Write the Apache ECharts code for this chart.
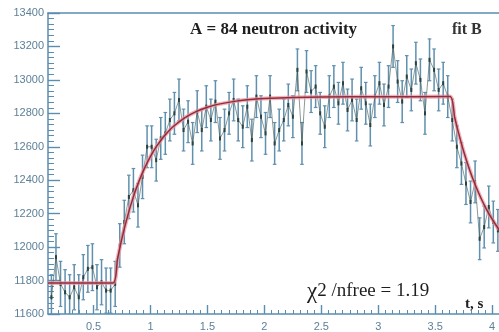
<!DOCTYPE html>
<html>
<head>
<meta charset="utf-8">
<script src="https://cdn.jsdelivr.net/npm/echarts@6/dist/echarts.min.js"></script>
<style>
  html, body { margin: 0; padding: 0; background: #ffffff; }
  #chart { width: 499px; height: 332px; }
</style>
</head>
<body>
<div id="chart"></div>
<script>
// Measured neutron activity: time bins (s), counts and their errors
const times = [
  0.13, 0.17, 0.21, 0.25, 0.29, 0.33, 0.37, 0.41, 0.45, 0.49,
  0.53, 0.57, 0.61, 0.65, 0.69, 0.73, 0.77, 0.81, 0.85, 0.89,
  0.93, 0.97, 1.01, 1.05, 1.09, 1.13, 1.17, 1.21, 1.25, 1.29,
  1.33, 1.37, 1.41, 1.45, 1.49, 1.53, 1.57, 1.61, 1.65, 1.69,
  1.73, 1.77, 1.81, 1.85, 1.89, 1.93, 1.97, 2.01, 2.05, 2.09,
  2.13, 2.17, 2.21, 2.25, 2.29, 2.33, 2.37, 2.41, 2.45, 2.49,
  2.53, 2.57, 2.61, 2.65, 2.69, 2.73, 2.77, 2.81, 2.85, 2.89,
  2.93, 2.97, 3.01, 3.05, 3.09, 3.13, 3.17, 3.21, 3.25, 3.29,
  3.33, 3.37, 3.41, 3.45, 3.49, 3.53, 3.57, 3.61, 3.65, 3.69,
  3.73, 3.77, 3.81, 3.85, 3.89, 3.93, 3.97, 4.01, 4.05
];
const counts = [
  11700, 11940, 11780, 11730, 11700, 11760, 11700, 11820, 11870, 11880,
  11760, 11790, 11740, 11740, 11780, 12010, 12150, 12300, 12340, 12250,
  12420, 12600, 12600, 12520, 12650, 12680, 12760, 12800, 12880, 12700,
  12750, 12620, 12810, 12700, 12840, 12760, 12870, 12650, 12700, 12800,
  12880, 12760, 12720, 12840, 12640, 12900, 12780, 12680, 12900, 12620,
  12700, 12760, 12850, 12780, 13060, 12620, 13050, 12930, 12960, 12800,
  12720, 12900, 12960, 12860, 12980, 12820, 12880, 12760, 12950, 12860,
  12730, 12900, 12980, 12850, 12960, 13200, 12990, 12870, 13020, 12940,
  13100, 13000, 12800, 13120, 13060, 12940, 12980, 12900, 12760, 12600,
  12500, 12380, 12270, 12390, 12050, 12120, 12240, 12150, 12100
];
const errors = [
  135, 140, 135, 135, 135, 135, 135, 135, 140, 140,
  135, 135, 135, 135, 135, 130, 130, 130, 130, 130,
  130, 125, 125, 125, 125, 125, 125, 125, 125, 125,
  125, 125, 125, 125, 125, 125, 125, 125, 125, 125,
  125, 125, 125, 125, 125, 125, 125, 125, 125, 125,
  125, 125, 125, 125, 125, 125, 125, 125, 125, 125,
  125, 125, 125, 125, 125, 125, 125, 125, 125, 125,
  125, 125, 125, 125, 125, 125, 125, 125, 125, 125,
  125, 125, 125, 125, 125, 125, 125, 125, 125, 125,
  125, 125, 125, 125, 125, 125, 125, 125, 125
];

// Fit B curve: flat background, saturation build-up, decay after beam off
const fitTimes = [
  0.10, 0.67, 0.71, 0.75, 0.80, 0.85, 0.90, 0.95, 1.00, 1.05,
  1.10, 1.15, 1.20, 1.30, 1.40, 1.50, 1.60, 1.75, 1.90, 2.00,
  2.25, 2.50, 3.00, 3.63, 3.67, 3.70, 3.75, 3.80, 3.85, 3.90,
  3.95, 4.00, 4.06
];
const fitCounts = [
  11785, 11785, 11929, 12054, 12188, 12302, 12396, 12475, 12543, 12599,
  12647, 12687, 12721, 12773, 12810, 12836, 12855, 12873, 12884, 12889,
  12895, 12898, 12899, 12900, 12778, 12695, 12572, 12466, 12374, 12295,
  12226, 12167, 12105
];

// Axis ticks
const xTickValues = [0.5, 1, 1.5, 2, 2.5, 3, 3.5, 4];
const xTickLabels = ['0.5', '1', '1.5', '2', '2.5', '3', '3.5', '4'];
const yTickLabels = ['11600', '11800', '12000', '12200', '12400', '12600', '12800', '13000', '13200', '13400'];

const X_MIN = 0.1, X_MAX = 4.06;
const xMinorTicks = [];
for (let v = 0.125; v <= X_MAX; v += 0.0625) xMinorTicks.push(+v.toFixed(4));

const axisBlue = '#5a8db0';
const labelColor = '#5d8099';
const barColor = '#5f90ae';

const points = times.map((t, i) => [t, counts[i], errors[i]]);
const fitLine = fitTimes.map((t, i) => [t, fitCounts[i]]);

const chart = echarts.init(document.getElementById('chart'), null, { renderer: 'canvas' });

chart.setOption({
  animation: false,
  backgroundColor: '#ffffff',
  grid: { left: 48, right: 0, top: 13, bottom: 18 },
  xAxis: [
    {
      type: 'value', min: X_MIN, max: X_MAX, position: 'bottom',
      axisLine: { show: true, lineStyle: { color: axisBlue, width: 1.5 } },
      axisTick: { show: true, inside: true, length: 4, customValues: xMinorTicks, lineStyle: { color: axisBlue } },
      axisLabel: { show: false },
      splitLine: { show: false }
    },
    {
      type: 'value', min: X_MIN, max: X_MAX, position: 'bottom',
      axisLine: { show: false },
      axisTick: { show: true, inside: true, length: 9, customValues: xTickValues, lineStyle: { color: axisBlue, width: 1.4 } },
      axisLabel: {
        show: true, customValues: xTickValues, margin: 7,
        color: labelColor, fontSize: 11, fontFamily: 'Liberation Sans',
        formatter: v => xTickLabels[xTickValues.indexOf(v)] ?? ''
      },
      splitLine: { show: false }
    },
    {
      type: 'value', min: X_MIN, max: X_MAX, position: 'top',
      axisLine: { show: true, lineStyle: { color: axisBlue, width: 1.5 } },
      axisTick: { show: false }, axisLabel: { show: false }, splitLine: { show: false }
    }
  ],
  yAxis: {
    type: 'value', min: 11600, max: 13400, interval: 200,
    axisLine: { show: true, lineStyle: { color: axisBlue, width: 1.5 } },
    axisTick: { show: true, inside: true, length: 12, lineStyle: { color: axisBlue, width: 1.4 } },
    minorTick: { show: true, splitNumber: 6, length: 6, lineStyle: { color: axisBlue } },
    axisLabel: {
      margin: 4, color: labelColor, fontSize: 11, fontFamily: 'Liberation Sans',
      formatter: v => yTickLabels[Math.round((v - 11600) / 200)] ?? ''
    },
    splitLine: { show: false }
  },
  series: [
    {
      type: 'custom',
      name: 'errors',
      xAxisIndex: 0,
      clip: true,
      data: points,
      renderItem: (params, api) => {
        const x = api.value(0), y = api.value(1), e = api.value(2);
        const top = api.coord([x, y + e]);
        const bot = api.coord([x, y - e]);
        const mid = api.coord([x, y]);
        return {
          type: 'group',
          children: [
            { type: 'line', shape: { x1: top[0], y1: top[1], x2: bot[0], y2: bot[1] },
              style: { stroke: barColor, lineWidth: 1.5 } },
            { type: 'line', shape: { x1: top[0] - 1.8, y1: top[1], x2: top[0] + 1.8, y2: top[1] },
              style: { stroke: barColor, lineWidth: 1.2 } },
            { type: 'line', shape: { x1: bot[0] - 1.8, y1: bot[1], x2: bot[0] + 1.8, y2: bot[1] },
              style: { stroke: barColor, lineWidth: 1.2 } },
            { type: 'rect', shape: { x: mid[0] - 1, y: mid[1] - 2, width: 2, height: 4 },
              style: { fill: '#2c3f3a' } }
          ]
        };
      }
    },
    {
      type: 'line', name: 'data', xAxisIndex: 0,
      data: points.map(p => [p[0], p[1]]),
      showSymbol: false, smooth: false,
      lineStyle: { color: '#33483f', width: 0.8, opacity: 0.7 },
      z: 3
    },
    {
      type: 'line', name: 'fit glow', xAxisIndex: 0,
      data: fitLine, showSymbol: false, smooth: 0.2,
      lineStyle: { color: '#e795a0', width: 4, opacity: 0.7 },
      z: 4
    },
    {
      type: 'line', name: 'fit', xAxisIndex: 0,
      data: fitLine, showSymbol: false, smooth: 0.2,
      lineStyle: { color: '#962a3a', width: 1.5 },
      z: 5
    }
  ],
  graphic: [
    { type: 'text', left: 190, top: 21, z: 10,
      style: { text: 'A = 84 neutron activity', fill: '#1e1e1e',
               font: 'bold 17px "Liberation Serif"' } },
    { type: 'text', left: 452, top: 22, z: 10,
      style: { text: 'fit B', fill: '#333333', font: 'bold 16px "Liberation Serif"' } },
    { type: 'text', left: 307, top: 280, z: 10,
      style: {
        text: '{a|χ}{b|2 /nfree = 1.19}',
        rich: {
          a: { fontFamily: 'Liberation Serif', fontSize: 23, fill: '#1e1e1e' },
          b: { fontFamily: 'Liberation Serif', fontSize: 19, fill: '#1e1e1e' }
        }
      } },
    { type: 'text', left: 465, top: 297, z: 10,
      style: { text: 't, s', fill: '#222222', font: 'bold 15px "Liberation Serif"' } }
  ]
});
</script>
</body>
</html>
